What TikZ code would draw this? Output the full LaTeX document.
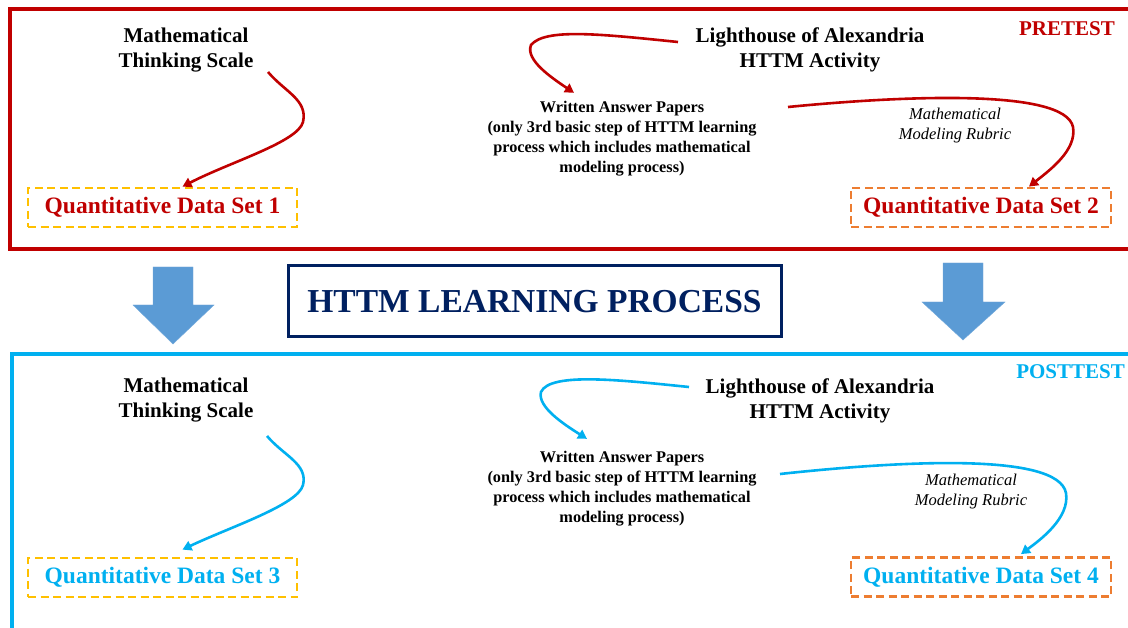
\documentclass[tikz,border=0pt]{standalone}
\usepackage{fontspec}
\setmainfont{Liberation Serif}
\usetikzlibrary{arrows.meta}
\definecolor{pred}{HTML}{C00000}
\definecolor{pblue}{HTML}{00B0F0}
\definecolor{pyel}{HTML}{FFC000}
\definecolor{porange}{HTML}{ED7D31}
\definecolor{pnavy}{HTML}{002060}
\definecolor{parrow}{HTML}{5B9BD5}
\tikzset{
  title/.style={inner sep=0pt, align=center, font=\bfseries\fontsize{21}{25}\selectfont},
  paper/.style={inner sep=0pt, align=center, font=\bfseries\fontsize{16.3}{20}\selectfont},
  rubric/.style={inner sep=0pt, align=center, font=\itshape\fontsize{16.5}{20}\selectfont},
  dataset/.style={draw, line width=2.8pt, dash pattern=on 8pt off 4.5pt, inner sep=0pt,
     minimum height=39pt, font=\bfseries\fontsize{23.5}{28}\selectfont},
  phase/.style={inner sep=0pt, font=\bfseries\fontsize{21}{25}\selectfont},
  flow/.style={line width=2.6pt, -{Triangle[length=9pt,width=10pt]}},
  bigdown/.style={fill=parrow, draw=parrow!85!white, line width=0.4pt}
}
\begin{document}
\begin{tikzpicture}[x=1pt,y=-1pt]
\useasboundingbox (0,0) rectangle (1128,628);
\fill[white] (0,0) rectangle (1128,628);

% panels
\draw[pred, line width=3.4pt] (10,9) rectangle (1145,249);
\draw[pblue, line width=3.4pt] (12,354) rectangle (1145,700);

% ---------- PRETEST ----------
\node[phase, text=pred, anchor=base east] (pre) at (1115,36) {PRETEST};
\node[title] (mts1) at (186,49.6) {Mathematical\\Thinking Scale};
\node[title] (lh1) at (810,49.6) {Lighthouse of Alexandria\\HTTM Activity};
\node[paper] (wap1) at (622,138.5) {Written Answer Papers\\(only 3rd basic step of HTTM learning\\process which includes mathematical\\modeling process)};
\node[rubric] (mmr1) at (955,126) {Mathematical\\Modeling Rubric};
\node[dataset, draw=pyel, text=pred, minimum width=269pt] (q1) at (162.5,207.5) {Quantitative Data Set 1};
\node[dataset, draw=porange, text=pred, minimum width=260pt] (q2) at (981,207.5) {Quantitative Data Set 2};

\coordinate (s1) at (268,72);
\coordinate (s2) at (678,42);
\coordinate (s3) at (788,107);
\draw[flow, pred] (s1) .. controls (285,92) and (308,100) .. (303,122)
   .. controls (298,142) and (230,162) .. ([shift={(20,0)}]q1.north);
\draw[flow, pred] (s2) .. controls (600,34) and (545,28) .. (531,45)
   .. controls (525,60) and (552,78) .. ([shift={(-48,-8)}]wap1.north);
\draw[flow, pred] (s3) .. controls (900,96) and (1065,88) .. (1073,127)
   .. controls (1077,150) and (1050,170) .. ([shift={(48,0)}]q2.north);

% ---------- middle ----------
\node[draw=pnavy, line width=3pt, minimum width=493pt, minimum height=71pt, inner sep=0pt,
      text=pnavy, font=\bfseries\fontsize{33.5}{40}\selectfont] (httm) at (534.5,301.5) {HTTM LEARNING PROCESS};
\draw[bigdown] (153,267) -- (193,267) -- (193,305) -- (214,305) -- (173,344) -- (133,305) -- (153,305) -- cycle;
\draw[bigdown] (943,263) -- (983,263) -- (983,302) -- (1005,302) -- (963,340) -- (922,302) -- (943,302) -- cycle;

% ---------- POSTTEST ----------
\node[phase, text=pblue, anchor=base east] (post) at (1125,379) {POSTTEST};
\node[title] (mts2) at (186,399.6) {Mathematical\\Thinking Scale};
\node[title] (lh2) at (820,400.6) {Lighthouse of Alexandria\\HTTM Activity};
\node[paper] (wap2) at (622,488.5) {Written Answer Papers\\(only 3rd basic step of HTTM learning\\process which includes mathematical\\modeling process)};
\node[rubric] (mmr2) at (971,492) {Mathematical\\Modeling Rubric};
\node[dataset, draw=pyel, text=pblue, minimum width=269pt] (q3) at (162.5,577.5) {Quantitative Data Set 3};
\node[dataset, draw=porange, text=pblue, minimum width=260pt] (q4) at (981,577) {Quantitative Data Set 4};

\coordinate (s4) at (267,436);
\coordinate (s5) at (689,387);
\coordinate (s6) at (780,474);
\draw[flow, pblue] (s4) .. controls (284,456) and (308,464) .. (303,485)
   .. controls (298,505) and (230,527) .. ([shift={(20,-7)}]q3.north);
\draw[flow, pblue] (s5) .. controls (620,380) and (550,372) .. (541,392)
   .. controls (537,407) and (565,425) .. ([shift={(-35,-12)}]wap2.north);
\draw[flow, pblue] (s6) .. controls (900,461) and (1058,452) .. (1066,493)
   .. controls (1070,518) and (1040,540) .. ([shift={(40,-2)}]q4.north);
\end{tikzpicture}
\end{document}
